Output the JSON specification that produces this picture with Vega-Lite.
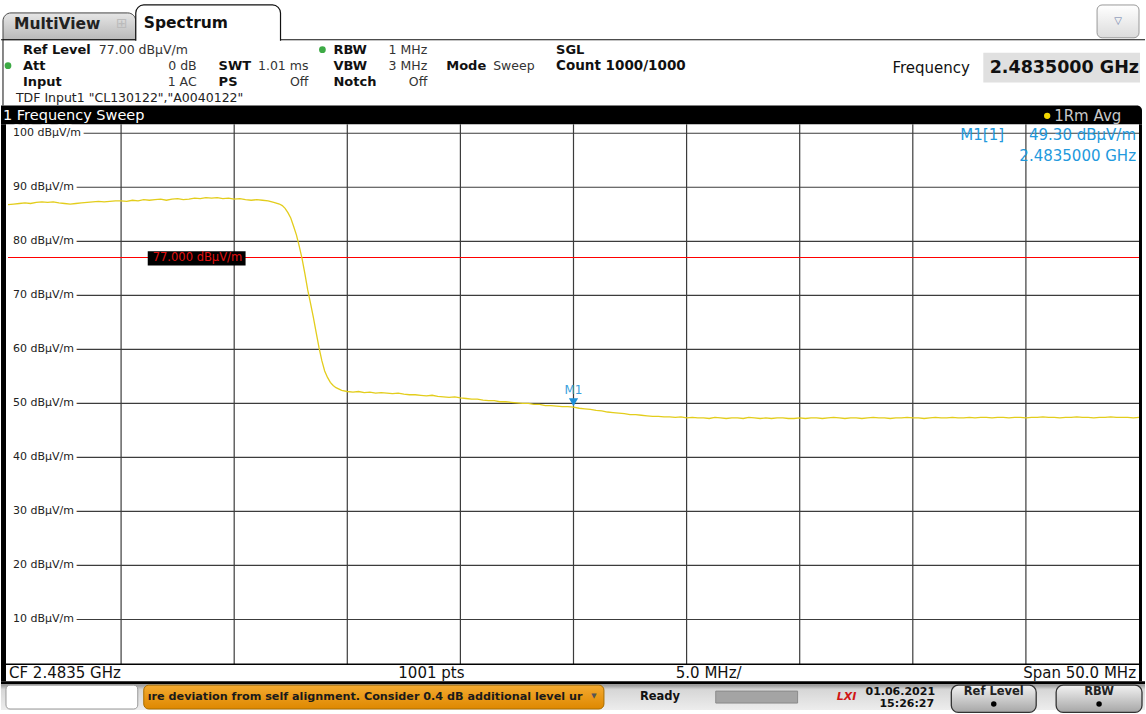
{
"$schema": "https://vega.github.io/schema/vega-lite/v6.json",
"width": 1146, "height": 714, "padding": 0,
"autosize": {"type": "fit", "contains": "padding"},
"background": "white",
"config": {"view": {"stroke": null}, "axis": {"disable": true}, "text": {"font": "DejaVu Sans", "baseline": "middle", "align": "left"}},
"datasets": {
"trace": [
{"f":2458.5,"v":86.8},{"f":2458.75,"v":86.9},{"f":2459.0,"v":87.0},{"f":2459.25,"v":87.1},{"f":2459.5,"v":87.0},{"f":2459.75,"v":87.2},{"f":2460.0,"v":87.3},{"f":2460.25,"v":87.2},{"f":2460.5,"v":87.3},{"f":2460.75,"v":87.1},{"f":2461.0,"v":87.0},{"f":2461.25,"v":86.9},{"f":2461.5,"v":87.0},{"f":2461.75,"v":87.1},{"f":2462.0,"v":87.2},{"f":2462.25,"v":87.3},{"f":2462.5,"v":87.4},{"f":2462.75,"v":87.3},{"f":2463.0,"v":87.4},{"f":2463.25,"v":87.5},{"f":2463.5,"v":87.5},{"f":2463.75,"v":87.4},{"f":2464.0,"v":87.6},{"f":2464.25,"v":87.5},{"f":2464.5,"v":87.7},{"f":2464.75,"v":87.6},{"f":2465.0,"v":87.7},{"f":2465.25,"v":87.8},{"f":2465.5,"v":87.6},{"f":2465.75,"v":87.8},{"f":2466.0,"v":87.9},{"f":2466.25,"v":87.7},{"f":2466.5,"v":87.8},{"f":2466.75,"v":88.0},{"f":2467.0,"v":87.9},{"f":2467.25,"v":88.1},{"f":2467.5,"v":88.0},{"f":2467.75,"v":88.1},{"f":2468.0,"v":87.9},{"f":2468.25,"v":88.0},{"f":2468.5,"v":87.8},{"f":2468.75,"v":87.9},{"f":2469.0,"v":87.7},{"f":2469.25,"v":87.6},{"f":2469.5,"v":87.7},{"f":2469.75,"v":87.6},{"f":2470.0,"v":87.5},{"f":2470.25,"v":87.2},{"f":2470.5,"v":86.9},{"f":2470.625,"v":86.6},{"f":2470.75,"v":86.1},{"f":2470.875,"v":85.3},{"f":2471.0,"v":84.3},{"f":2471.125,"v":82.8},{"f":2471.25,"v":81.2},{"f":2471.375,"v":79.1},{"f":2471.5,"v":76.8},{"f":2471.625,"v":74.0},{"f":2471.75,"v":71.0},{"f":2471.875,"v":68.5},{"f":2472.0,"v":65.9},{"f":2472.125,"v":63.1},{"f":2472.25,"v":60.3},{"f":2472.375,"v":57.9},{"f":2472.5,"v":56.0},{"f":2472.625,"v":54.8},{"f":2472.75,"v":53.9},{"f":2472.875,"v":53.3},{"f":2473.0,"v":52.9},{"f":2473.25,"v":52.4},{"f":2473.5,"v":52.2},{"f":2473.75,"v":52.1},{"f":2474.0,"v":52.2},{"f":2474.25,"v":52.0},{"f":2474.5,"v":52.1},{"f":2474.75,"v":51.9},{"f":2475.0,"v":52.0},{"f":2475.25,"v":51.9},{"f":2475.5,"v":51.8},{"f":2475.75,"v":51.9},{"f":2476.0,"v":51.7},{"f":2476.25,"v":51.6},{"f":2476.5,"v":51.6},{"f":2476.75,"v":51.5},{"f":2477.0,"v":51.4},{"f":2477.25,"v":51.5},{"f":2477.5,"v":51.3},{"f":2477.75,"v":51.2},{"f":2478.0,"v":51.1},{"f":2478.25,"v":51.2},{"f":2478.5,"v":51.0},{"f":2478.75,"v":50.9},{"f":2479.0,"v":50.8},{"f":2479.25,"v":50.8},{"f":2479.5,"v":50.6},{"f":2479.75,"v":50.5},{"f":2480.0,"v":50.5},{"f":2480.25,"v":50.3},{"f":2480.5,"v":50.3},{"f":2480.75,"v":50.2},{"f":2481.0,"v":50.1},{"f":2481.25,"v":50.0},{"f":2481.5,"v":50.0},{"f":2481.75,"v":49.8},{"f":2482.0,"v":49.8},{"f":2482.25,"v":49.6},{"f":2482.5,"v":49.6},{"f":2482.75,"v":49.5},{"f":2483.0,"v":49.4},{"f":2483.25,"v":49.4},{"f":2483.5,"v":49.3},{"f":2483.75,"v":49.1},{"f":2484.0,"v":49.0},{"f":2484.25,"v":48.9},{"f":2484.5,"v":48.7},{"f":2484.75,"v":48.6},{"f":2485.0,"v":48.4},{"f":2485.25,"v":48.3},{"f":2485.5,"v":48.2},{"f":2485.75,"v":48.1},{"f":2486.0,"v":47.9},{"f":2486.25,"v":47.9},{"f":2486.5,"v":47.8},{"f":2486.75,"v":47.7},{"f":2487.0,"v":47.6},{"f":2487.25,"v":47.6},{"f":2487.5,"v":47.5},{"f":2487.75,"v":47.5},{"f":2488.0,"v":47.4},{"f":2488.25,"v":47.5},{"f":2488.5,"v":47.3},{"f":2488.75,"v":47.4},{"f":2489.0,"v":47.3},{"f":2489.25,"v":47.3},{"f":2489.5,"v":47.2},{"f":2489.75,"v":47.4},{"f":2490.0,"v":47.3},{"f":2490.25,"v":47.2},{"f":2490.5,"v":47.3},{"f":2490.75,"v":47.3},{"f":2491.0,"v":47.2},{"f":2491.25,"v":47.4},{"f":2491.5,"v":47.3},{"f":2491.75,"v":47.2},{"f":2492.0,"v":47.3},{"f":2492.25,"v":47.2},{"f":2492.5,"v":47.3},{"f":2492.75,"v":47.3},{"f":2493.0,"v":47.2},{"f":2493.25,"v":47.2},{"f":2493.5,"v":47.3},{"f":2493.75,"v":47.2},{"f":2494.0,"v":47.3},{"f":2494.25,"v":47.3},{"f":2494.5,"v":47.2},{"f":2494.75,"v":47.3},{"f":2495.0,"v":47.4},{"f":2495.25,"v":47.3},{"f":2495.5,"v":47.2},{"f":2495.75,"v":47.3},{"f":2496.0,"v":47.3},{"f":2496.25,"v":47.2},{"f":2496.5,"v":47.3},{"f":2496.75,"v":47.4},{"f":2497.0,"v":47.3},{"f":2497.25,"v":47.3},{"f":2497.5,"v":47.2},{"f":2497.75,"v":47.3},{"f":2498.0,"v":47.3},{"f":2498.25,"v":47.4},{"f":2498.5,"v":47.3},{"f":2498.75,"v":47.3},{"f":2499.0,"v":47.2},{"f":2499.25,"v":47.3},{"f":2499.5,"v":47.4},{"f":2499.75,"v":47.3},{"f":2500.0,"v":47.3},{"f":2500.25,"v":47.4},{"f":2500.5,"v":47.3},{"f":2500.75,"v":47.3},{"f":2501.0,"v":47.4},{"f":2501.25,"v":47.3},{"f":2501.5,"v":47.4},{"f":2501.75,"v":47.4},{"f":2502.0,"v":47.3},{"f":2502.25,"v":47.4},{"f":2502.5,"v":47.4},{"f":2502.75,"v":47.3},{"f":2503.0,"v":47.4},{"f":2503.25,"v":47.4},{"f":2503.5,"v":47.3},{"f":2503.75,"v":47.4},{"f":2504.0,"v":47.4},{"f":2504.25,"v":47.5},{"f":2504.5,"v":47.4},{"f":2504.75,"v":47.4},{"f":2505.0,"v":47.3},{"f":2505.25,"v":47.4},{"f":2505.5,"v":47.4},{"f":2505.75,"v":47.5},{"f":2506.0,"v":47.4},{"f":2506.25,"v":47.4},{"f":2506.5,"v":47.3},{"f":2506.75,"v":47.4},{"f":2507.0,"v":47.4},{"f":2507.25,"v":47.5},{"f":2507.5,"v":47.4},{"f":2507.75,"v":47.4},{"f":2508.0,"v":47.4},{"f":2508.25,"v":47.3},{"f":2508.5,"v":47.4}
],
"levels": [
{"lvl":100,"lab":"100 dBµV/m"},{"lvl":90,"lab":"90 dBµV/m"},{"lvl":80,"lab":"80 dBµV/m"},{"lvl":70,"lab":"70 dBµV/m"},{"lvl":60,"lab":"60 dBµV/m"},{"lvl":50,"lab":"50 dBµV/m"},{"lvl":40,"lab":"40 dBµV/m"},{"lvl":30,"lab":"30 dBµV/m"},{"lvl":20,"lab":"20 dBµV/m"},{"lvl":10,"lab":"10 dBµV/m"}
],
"vgrid": [{"f":2463.5},{"f":2468.5},{"f":2473.5},{"f":2478.5},{"f":2483.5},{"f":2488.5},{"f":2493.5},{"f":2498.5},{"f":2503.5}]
},
"data": {"values": [{}]},
"layer": [
{"mark": {"type":"rect","fill":{"gradient":"linear","x1":0,"y1":0,"x2":0,"y2":1,"stops":[{"offset":0,"color":"#e6e6e6"},{"offset":1,"color":"#b8b8b8"}]},"stroke":"#444","strokeWidth":1,"cornerRadiusTopLeft":8,"cornerRadiusTopRight":8},
 "encoding": {"x":{"datum":2458.279,"type":"quantitative","scale":{"domain":[2458.191,2508.765],"nice":false,"zero":false},"axis":null},"x2":{"datum":2464.149},"y":{"datum":122.271,"type":"quantitative","scale":{"domain":[-6.755,124.664],"nice":false,"zero":false},"axis":null},"y2":{"datum":117.302}}},
{"mark": {"type":"rect","fill":"white","stroke":"#111","strokeWidth":1.2,"cornerRadiusTopLeft":8,"cornerRadiusTopRight":8},
 "encoding": {"x":{"datum":2464.149},"x2":{"datum":2470.548},"y":{"datum":123.744},"y2":{"datum":113.0}}},
{"mark": {"type":"rect","fill":"white"},
 "encoding": {"x":{"datum":2458.279},"x2":{"datum":2508.632},"y":{"datum":117.118},"y2":{"datum":105.154}}},
{"mark": {"type":"rule","color":"#111","strokeWidth":1.2},"encoding": {"x":{"datum":2458.191},"x2":{"datum":2464.149},"y":{"datum":117.302}}},
{"mark": {"type":"rule","color":"#111","strokeWidth":1.2},"encoding": {"x":{"datum":2470.548},"x2":{"datum":2508.765},"y":{"datum":117.302}}},
{"mark": {"type":"rule","color":"#111","strokeWidth":1},"encoding": {"x":{"datum":2458.279},"y":{"datum":117.302},"y2":{"datum":105.154}}},
{"mark": {"type":"text","text":"MultiView","fontSize":15.5,"fontWeight":"bold","color":"#222"},"encoding": {"x":{"datum":2458.765},"y":{"datum":120.2}}},
{"mark": {"type":"text","text":"⊞","fontSize":14,"color":"#bbbbbb","align":"center"},"encoding": {"x":{"datum":2463.531},"y":{"datum":120.2}}},
{"mark": {"type":"text","text":"Spectrum","fontSize":15.5,"fontWeight":"bold","color":"#111"},"encoding": {"x":{"datum":2464.502},"y":{"datum":120.431}}},
{"mark": {"type":"rect","fill":{"gradient":"linear","x1":0,"y1":0,"x2":0,"y2":1,"stops":[{"offset":0,"color":"#ffffff"},{"offset":1,"color":"#dcdcdc"}]},"stroke":"#999","cornerRadius":5},
 "encoding": {"x":{"datum":2506.646},"x2":{"datum":2508.5},"y":{"datum":123.744},"y2":{"datum":117.67}}},
{"mark": {"type":"text","text":"▽","fontSize":10,"color":"#6a7aa8","align":"center"},"encoding": {"x":{"datum":2507.573},"y":{"datum":120.707}}},
{"mark": {"type":"text","text":"Ref Level","fontSize":13,"fontWeight":"bold","color":"#111"},"encoding": {"x":{"datum":2459.162},"y":{"datum":115.461}}},
{"mark": {"type":"text","text":"77.00 dBµV/m","fontSize":12.5,"color":"#333"},"encoding": {"x":{"datum":2462.516},"y":{"datum":115.461}}},
{"mark": {"type":"point","shape":"circle","filled":true,"color":"#3daa45","size":45,"opacity":1},"encoding": {"x":{"datum":2458.5},"y":{"datum":112.516}}},
{"mark": {"type":"text","text":"Att","fontSize":13,"fontWeight":"bold","color":"#111"},"encoding": {"x":{"datum":2459.162},"y":{"datum":112.516}}},
{"mark": {"type":"text","text":"0 dB","fontSize":12.5,"color":"#333","align":"right"},"encoding": {"x":{"datum":2466.841},"y":{"datum":112.516}}},
{"mark": {"type":"text","text":"Input","fontSize":13,"fontWeight":"bold","color":"#111"},"encoding": {"x":{"datum":2459.162},"y":{"datum":109.571}}},
{"mark": {"type":"text","text":"1 AC","fontSize":12.5,"color":"#333","align":"right"},"encoding": {"x":{"datum":2466.841},"y":{"datum":109.571}}},
{"mark": {"type":"text","text":"SWT","fontSize":13,"fontWeight":"bold","color":"#111"},"encoding": {"x":{"datum":2467.811},"y":{"datum":112.516}}},
{"mark": {"type":"text","text":"1.01 ms","fontSize":12.5,"color":"#333","align":"right"},"encoding": {"x":{"datum":2471.783},"y":{"datum":112.516}}},
{"mark": {"type":"text","text":"PS","fontSize":13,"fontWeight":"bold","color":"#111"},"encoding": {"x":{"datum":2467.811},"y":{"datum":109.571}}},
{"mark": {"type":"text","text":"Off","fontSize":12.5,"color":"#333","align":"right"},"encoding": {"x":{"datum":2471.783},"y":{"datum":109.571}}},
{"mark": {"type":"point","shape":"circle","filled":true,"color":"#3daa45","size":45,"opacity":1},"encoding": {"x":{"datum":2472.4},"y":{"datum":115.461}}},
{"mark": {"type":"text","text":"RBW","fontSize":13,"fontWeight":"bold","color":"#111"},"encoding": {"x":{"datum":2472.886},"y":{"datum":115.461}}},
{"mark": {"type":"text","text":"1 MHz","fontSize":12.5,"color":"#333","align":"right"},"encoding": {"x":{"datum":2477.035},"y":{"datum":115.461}}},
{"mark": {"type":"text","text":"VBW","fontSize":13,"fontWeight":"bold","color":"#111"},"encoding": {"x":{"datum":2472.886},"y":{"datum":112.516}}},
{"mark": {"type":"text","text":"3 MHz","fontSize":12.5,"color":"#333","align":"right"},"encoding": {"x":{"datum":2477.035},"y":{"datum":112.516}}},
{"mark": {"type":"text","text":"Notch","fontSize":13,"fontWeight":"bold","color":"#111"},"encoding": {"x":{"datum":2472.886},"y":{"datum":109.571}}},
{"mark": {"type":"text","text":"Off","fontSize":12.5,"color":"#333","align":"right"},"encoding": {"x":{"datum":2477.035},"y":{"datum":109.571}}},
{"mark": {"type":"text","text":"Mode","fontSize":13,"fontWeight":"bold","color":"#111"},"encoding": {"x":{"datum":2477.873},"y":{"datum":112.516}}},
{"mark": {"type":"text","text":"Sweep","fontSize":12.5,"color":"#333"},"encoding": {"x":{"datum":2479.947},"y":{"datum":112.516}}},
{"mark": {"type":"text","text":"SGL","fontSize":13,"fontWeight":"bold","color":"#111"},"encoding": {"x":{"datum":2482.728},"y":{"datum":115.461}}},
{"mark": {"type":"text","text":"Count 1000/1000","fontSize":13.5,"fontWeight":"bold","color":"#111"},"encoding": {"x":{"datum":2482.728},"y":{"datum":112.516}}},
{"mark": {"type":"text","text":"TDF Input1 \"CL130122\",\"A0040122\"","fontSize":12.5,"color":"#222"},"encoding": {"x":{"datum":2458.853},"y":{"datum":106.442}}},
{"mark": {"type":"text","text":"Frequency","fontSize":15,"color":"#111"},"encoding": {"x":{"datum":2497.6},"y":{"datum":112.148}}},
{"mark": {"type":"rect","fill":"#e0e0e0"},"encoding": {"x":{"datum":2501.616},"x2":{"datum":2508.544},"y":{"datum":114.909},"y2":{"datum":109.387}}},
{"mark": {"type":"text","text":"2.4835000 GHz","fontSize":17.5,"fontWeight":"bold","color":"#111","align":"right"},"encoding": {"x":{"datum":2508.5},"y":{"datum":112.148}}},
{"mark": {"type":"rect","fill":"#000","cornerRadiusTopRight":5},"encoding": {"x":{"datum":2458.191},"x2":{"datum":2508.632},"y":{"datum":105.154},"y2":{"datum":101.656}}},
{"mark": {"type":"text","text":"1 Frequency Sweep","fontSize":14.5,"color":"#ffffff"},"encoding": {"x":{"datum":2458.279},"y":{"datum":103.221}}},
{"mark": {"type":"point","shape":"circle","filled":true,"color":"#f2d600","size":40,"opacity":1},"encoding": {"x":{"datum":2504.44},"y":{"datum":103.221}}},
{"mark": {"type":"text","text":"1Rm Avg","fontSize":15,"color":"#c8c8c8"},"encoding": {"x":{"datum":2504.749},"y":{"datum":103.221}}},
{"mark": {"type":"rect","fill":"#000"},"encoding": {"x":{"datum":2458.191},"x2":{"datum":2458.412},"y":{"datum":-1.417},"y2":{"datum":101.656}}},
{"mark": {"type":"rect","fill":"#000"},"encoding": {"x":{"datum":2508.5},"x2":{"datum":2508.632},"y":{"datum":-1.417},"y2":{"datum":101.656}}},
{"data": {"name":"vgrid"},"mark": {"type":"rule","color":"#3c3c3c","strokeWidth":1.2},"encoding": {"x":{"field":"f","type":"quantitative"},"y":{"datum":1.712},"y2":{"datum":101.656}}},
{"data": {"name":"levels"},"mark": {"type":"rule","color":"#3c3c3c","strokeWidth":1.2},"encoding": {"x":{"datum":2458.721},"x2":{"datum":2508.5},"y":{"field":"lvl","type":"quantitative"}}},
{"data": {"name":"levels"},"mark": {"type":"text","fontSize":11,"fill":"white","stroke":"white","strokeWidth":7,"strokeJoin":"round"},"encoding": {"x":{"datum":2458.721},"y":{"field":"lvl","type":"quantitative"},"text":{"field":"lab"}}},
{"data": {"name":"levels"},"mark": {"type":"text","fontSize":11,"color":"#222"},"encoding": {"x":{"datum":2458.721},"y":{"field":"lvl","type":"quantitative"},"text":{"field":"lab"}}},
{"mark": {"type":"rule","color":"#ff0000","strokeWidth":1},"encoding": {"x":{"datum":2458.5},"x2":{"datum":2508.5},"y":{"datum":77}}},
{"mark": {"type":"rect","fill":"#000"},"encoding": {"x":{"datum":2464.678},"x2":{"datum":2469.003},"y":{"datum":78.15},"y2":{"datum":75.5}}},
{"mark": {"type":"text","text":"77.000 dBµV/m","fontSize":11.5,"color":"#e01010"},"encoding": {"x":{"datum":2464.899},"y":{"datum":76.85}}},
{"data": {"name":"trace"},"mark": {"type":"line","color":"#e3cd1c","strokeWidth":1.3},"encoding": {"x":{"field":"f","type":"quantitative"},"y":{"field":"v","type":"quantitative"}}},
{"mark": {"type":"point","shape":"triangle-down","filled":true,"color":"#1e90d8","size":85,"opacity":1,"yOffset":-5},"encoding": {"x":{"datum":2483.5},"y":{"datum":49.3}}},
{"mark": {"type":"text","text":"M1","fontSize":12,"color":"#3aa0dc","align":"center","dy":-17},"encoding": {"x":{"datum":2483.5},"y":{"datum":49.3}}},
{"mark": {"type":"text","text":"M1[1]","fontSize":15,"color":"#2299dd"},"encoding": {"x":{"datum":2500.601},"y":{"datum":99.632}}},
{"mark": {"type":"text","text":"49.30 dBµV/m","fontSize":15,"color":"#2299dd","align":"right"},"encoding": {"x":{"datum":2508.368},"y":{"datum":99.632}}},
{"mark": {"type":"text","text":"2.4835000 GHz","fontSize":15,"color":"#2299dd","align":"right"},"encoding": {"x":{"datum":2508.368},"y":{"datum":95.767}}},
{"mark": {"type":"rule","color":"#000","strokeWidth":1.5},"encoding": {"x":{"datum":2458.412},"x2":{"datum":2508.632},"y":{"datum":1.712}}},
{"mark": {"type":"text","text":"CF 2.4835 GHz","fontSize":15,"color":"#111"},"encoding": {"x":{"datum":2458.544},"y":{"datum":0.147}}},
{"mark": {"type":"text","text":"1001 pts","fontSize":15,"color":"#111"},"encoding": {"x":{"datum":2475.755},"y":{"datum":0.147}}},
{"mark": {"type":"text","text":"5.0 MHz/","fontSize":15,"color":"#111"},"encoding": {"x":{"datum":2488.023},"y":{"datum":0.147}}},
{"mark": {"type":"text","text":"Span 50.0 MHz","fontSize":15,"color":"#111","align":"right"},"encoding": {"x":{"datum":2508.368},"y":{"datum":0.147}}},
{"mark": {"type":"rect","fill":"#000"},"encoding": {"x":{"datum":2458.191},"x2":{"datum":2508.765},"y":{"datum":-1.417},"y2":{"datum":-1.969}}},
{"mark": {"type":"rect","fill":{"gradient":"linear","x1":0,"y1":0,"x2":0,"y2":1,"stops":[{"offset":0,"color":"#8c8c8c"},{"offset":0.2,"color":"#d6d6d6"},{"offset":1,"color":"#ededed"}]}},"encoding": {"x":{"datum":2458.191},"x2":{"datum":2508.765},"y":{"datum":-1.969},"y2":{"datum":-6.755}}},
{"mark": {"type":"rect","fill":"white","stroke":"#999","cornerRadius":4},"encoding": {"x":{"datum":2458.412},"x2":{"datum":2464.237},"y":{"datum":-2.153},"y2":{"datum":-6.571}}},
{"mark": {"type":"rect","fill":{"gradient":"linear","x1":0,"y1":0,"x2":0,"y2":1,"stops":[{"offset":0,"color":"#f4aa30"},{"offset":1,"color":"#de8800"}]},"stroke":"#a86e00","cornerRadius":5},"encoding": {"x":{"datum":2464.502},"x2":{"datum":2484.846},"y":{"datum":-2.153},"y2":{"datum":-6.571}}},
{"mark": {"type":"text","text":"ıre deviation from self alignment. Consider 0.4 dB additional level ur","fontSize":11.2,"fontWeight":"bold","color":"#1a1a1a"},"encoding": {"x":{"datum":2464.678},"y":{"datum":-4.362}}},
{"mark": {"type":"text","text":"▼","fontSize":7,"color":"#555","align":"center"},"encoding": {"x":{"datum":2484.405},"y":{"datum":-4.2}}},
{"mark": {"type":"text","text":"Ready","fontSize":11.5,"fontWeight":"bold","color":"#111"},"encoding": {"x":{"datum":2486.435},"y":{"datum":-4.362}}},
{"mark": {"type":"rect","fill":"#a4a4a4","stroke":"#8a8a8a"},"encoding": {"x":{"datum":2489.789},"x2":{"datum":2493.407},"y":{"datum":-3.258},"y2":{"datum":-5.466}}},
{"mark": {"type":"text","text":"LXI","fontSize":11,"fontWeight":"bold","fontStyle":"italic","color":"#d01515","align":"center"},"encoding": {"x":{"datum":2495.57},"y":{"datum":-4.362}}},
{"mark": {"type":"text","text":"01.06.2021","fontSize":11,"fontWeight":"bold","color":"#111"},"encoding": {"x":{"datum":2496.408},"y":{"datum":-3.35}}},
{"mark": {"type":"text","text":"15:26:27","fontSize":11,"fontWeight":"bold","color":"#111"},"encoding": {"x":{"datum":2497.026},"y":{"datum":-5.651}}},
{"mark": {"type":"rect","fill":{"gradient":"linear","x1":0,"y1":0,"x2":0,"y2":1,"stops":[{"offset":0,"color":"#f2f2f2"},{"offset":1,"color":"#a6a6a6"}]},"stroke":"#333","strokeWidth":1.3,"cornerRadius":7},"encoding": {"x":{"datum":2500.203},"x2":{"datum":2503.955},"y":{"datum":-2.153},"y2":{"datum":-7.2}}},
{"mark": {"type":"text","text":"Ref Level","fontSize":11.5,"fontWeight":"bold","color":"#222","align":"center"},"encoding": {"x":{"datum":2502.079},"y":{"datum":-3.442}}},
{"mark": {"type":"point","shape":"circle","filled":true,"color":"#000","size":30,"opacity":1},"encoding": {"x":{"datum":2502.079},"y":{"datum":-5.651}}},
{"mark": {"type":"rect","fill":{"gradient":"linear","x1":0,"y1":0,"x2":0,"y2":1,"stops":[{"offset":0,"color":"#f2f2f2"},{"offset":1,"color":"#a6a6a6"}]},"stroke":"#333","strokeWidth":1.3,"cornerRadius":7},"encoding": {"x":{"datum":2504.837},"x2":{"datum":2508.632},"y":{"datum":-2.153},"y2":{"datum":-7.2}}},
{"mark": {"type":"text","text":"RBW","fontSize":11.5,"fontWeight":"bold","color":"#222","align":"center"},"encoding": {"x":{"datum":2506.735},"y":{"datum":-3.442}}},
{"mark": {"type":"point","shape":"circle","filled":true,"color":"#000","size":30,"opacity":1},"encoding": {"x":{"datum":2506.735},"y":{"datum":-5.651}}}
]
}
